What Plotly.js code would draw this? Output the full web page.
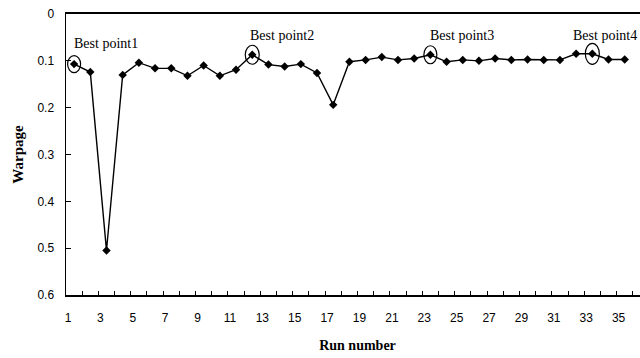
<!DOCTYPE html>
<html>
<head>
<meta charset="utf-8">
<script src="https://cdn.plot.ly/plotly-3.0.1.min.js"></script>
<style>
  html, body { margin: 0; padding: 0; background: #fff; overflow: hidden; }
  #chart { width: 650px; height: 358px; }
</style>
</head>
<body>
<div id="chart"></div>
<script>
// ---- data ----
const runs = [1,2,3,4,5,6,7,8,9,10,11,12,13,14,15,16,17,18,19,20,21,22,23,24,25,26,27,28,29,30,31,32,33,34,35];
const warpage = [0.107,0.124,0.505,0.130,0.104,0.116,0.116,0.132,0.110,0.132,0.119,0.087,0.108,0.112,0.107,0.126,0.194,0.102,0.098,0.092,0.098,0.095,0.087,0.102,0.098,0.100,0.095,0.098,0.097,0.098,0.098,0.085,0.085,0.097,0.097];
const xTickLabels = [1,3,5,7,9,11,13,15,17,19,21,23,25,27,29,31,33,35];
const yTickVals = [0,0.1,0.2,0.3,0.4,0.5,0.6];
const yTickText = ['0','0.1','0.2','0.3','0.4','0.5','0.6'];
const bestRuns = [1,12,23,33];
const bestLabels = ['Best point1','Best point2','Best point3','Best point4'];

// ---- axis tick positions: tick marks sit between categories ----
const nBound = 37;
const xTickVals = [], xTickText = [];
for (let k = 0; k < nBound; k++) {
  xTickVals.push(k + 0.5);
  xTickText.push(xTickLabels.includes(k + 1) ? String(k + 1) : '');
}

const trace = {
  x: runs, y: warpage,
  type: 'scatter', mode: 'lines+markers',
  line: { color: '#000', width: 1.4 },
  marker: { symbol: 'diamond', size: 6.5, color: '#000' },
  hoverinfo: 'x+y', showlegend: false
};

// annotation / ellipse style offsets (pixels)
const labelShift = [[-2, 21], [-4, 19], [-2, 19], [-21, 18]];
const ellipseSize = [[13, 17], [14, 19], [13, 18], [14, 21]];

const annotations = bestRuns.map((r, i) => ({
  x: r, y: warpage[r - 1], xref: 'x', yref: 'y',
  text: bestLabels[i], showarrow: false,
  xanchor: 'left', yanchor: 'middle',
  xshift: labelShift[i][0], yshift: labelShift[i][1],
  font: { family: 'Liberation Serif, Times New Roman, serif', size: 14, color: '#000' }
}));

const shapes = bestRuns.map((r, i) => ({
  type: 'circle', xref: 'x', yref: 'y',
  xsizemode: 'pixel', ysizemode: 'pixel',
  xanchor: r, yanchor: warpage[r - 1],
  x0: -ellipseSize[i][0] / 2, x1: ellipseSize[i][0] / 2,
  y0: -ellipseSize[i][1] / 2, y1: ellipseSize[i][1] / 2,
  line: { color: '#000', width: 1.2 }, fillcolor: 'rgba(0,0,0,0)'
}));

const layout = {
  width: 650, height: 358,
  margin: { l: 66, r: 1, t: 14, b: 63 },
  paper_bgcolor: '#fff', plot_bgcolor: '#fff',
  font: { family: 'Liberation Sans, Arial, sans-serif', size: 12, color: '#000' },
  xaxis: {
    range: [0.5, 36.5],
    tickmode: 'array', tickvals: xTickVals, ticktext: xTickText,
    ticks: 'inside', ticklen: 4, tickwidth: 1, tickcolor: '#000',
    ticklabelshift: 2, ticklabelstandoff: 11,
    showline: true, linecolor: '#000', linewidth: 2, mirror: true,
    showgrid: false, zeroline: false,
    tickfont: { family: 'Liberation Sans, Arial, sans-serif', size: 12, color: '#000' },
    title: { text: 'Run number', standoff: 16,
      font: { family: 'Liberation Serif, Times New Roman, serif', size: 14, color: '#000', weight: 'bold' } }
  },
  yaxis: {
    range: [0.6, 0],
    tickmode: 'array', tickvals: yTickVals, ticktext: yTickText,
    ticks: 'inside', ticklen: 5, tickwidth: 1, tickcolor: '#000',
    ticklabelstandoff: 8,
    showline: true, linecolor: '#000', linewidth: 1.5,
    showgrid: false, zeroline: false,
    tickfont: { family: 'Liberation Sans, Arial, sans-serif', size: 12, color: '#000' },
    title: { text: 'Warpage', standoff: 10,
      font: { family: 'Liberation Serif, Times New Roman, serif', size: 15, color: '#000', weight: 'bold' } }
  },
  annotations: annotations,
  shapes: shapes
};

Plotly.newPlot('chart', [trace], layout, { displayModeBar: false, staticPlot: true });
</script>
</body>
</html>
